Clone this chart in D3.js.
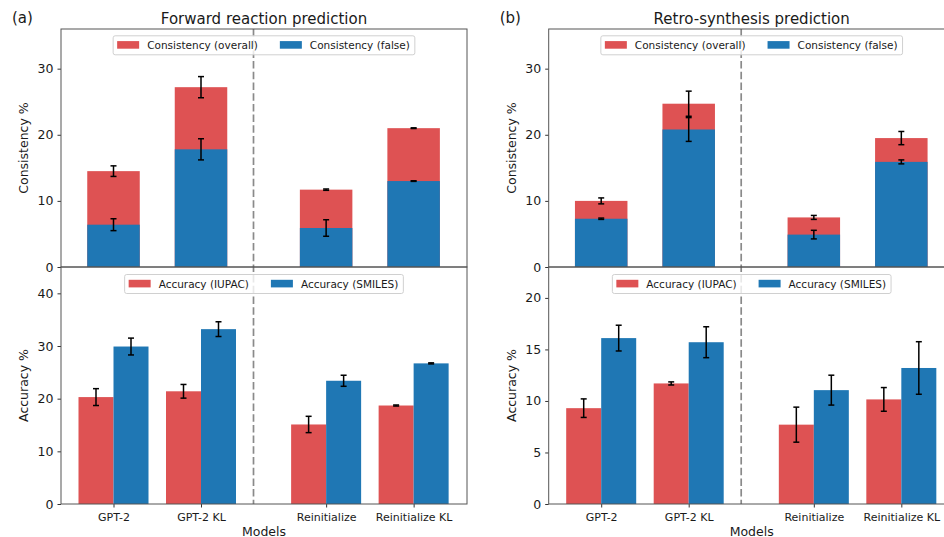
<!DOCTYPE html>
<meta charset="utf-8">
<style>
  body { margin: 0; overflow: hidden; background: white; }
  text { font-family: "DejaVu Sans", sans-serif; fill: #1a1a1a; }
  .tick text { font-family: "DejaVu Sans", sans-serif; fill: #1a1a1a; }
  .ylab { font-size: 12.5px; }
  .title { font-size: 15px; }
  .legend-label { font-size: 10.5px; }
</style>

<script src="https://d3js.org/d3.v7.min.js"></script>

<div id="my_dataviz"></div>

<script>
  // models on the x axis
  const models = ["GPT-2", "GPT-2 KL", "Reinitialize", "Reinitialize KL"];

  // (a) forward reaction prediction
  const fwdConsOverall    = [14.5, 27.2, 11.7, 21.0];
  const fwdConsOverallErr = [0.8, 1.6, 0.1, 0.05];
  const fwdConsFalse      = [6.4, 17.8, 5.9, 13.0];
  const fwdConsFalseErr   = [0.9, 1.6, 1.25, 0.05];
  const fwdAccIupac       = [20.3, 21.4, 15.1, 18.7];
  const fwdAccIupacErr    = [1.6, 1.3, 1.55, 0.1];
  const fwdAccSmiles      = [29.9, 33.2, 23.4, 26.7];
  const fwdAccSmilesErr   = [1.6, 1.4, 1.05, 0.1];

  // (b) retro-synthesis prediction
  const retroConsOverall    = [10.0, 24.7, 7.5, 19.5];
  const retroConsOverallErr = [0.45, 1.9, 0.3, 1.0];
  const retroConsFalse      = [7.3, 20.8, 4.9, 15.9];
  const retroConsFalseErr   = [0.1, 1.8, 0.65, 0.3];
  const retroAccIupac       = [9.3, 11.7, 7.7, 10.15];
  const retroAccIupacErr    = [0.9, 0.15, 1.7, 1.15];
  const retroAccSmiles      = [16.1, 15.7, 11.05, 13.2];
  const retroAccSmilesErr   = [1.25, 1.5, 1.45, 2.55];

  // axis ticks
  const consTicks = [0, 10, 20, 30];
  const fwdAccTicks = [0, 10, 20, 30, 40];
  const retroAccTicks = [0, 5, 10, 15, 20];

  const red = "#de5253", blue = "#1f77b4";

  const svg = d3.select("#my_dataviz")
    .append("svg")
      .attr("width", 944)
      .attr("height", 537);

  // layout of the two columns
  const plotW = 406;
  const topY = 29, midY = 267, botY = 504;
  const gap = 0.43;               // extra space before the "Reinitialize" group
  const xPos = i => i + (i >= 2 ? gap : 0);

  function panel(left, letter, title, cons, acc) {
    const g = svg.append("g").attr("transform", `translate(${left},0)`);

    const x = d3.scaleLinear().domain([-0.6, 4.04]).range([0, plotW]);
    const yTop = d3.scaleLinear().domain([0, 36]).range([midY, topY]);
    const yBot = d3.scaleLinear().domain([0, acc.max]).range([botY, midY]);

    // white axes backgrounds
    g.append("rect").attr("x", 0).attr("y", topY).attr("width", plotW)
      .attr("height", botY - topY).attr("fill", "white");

    // ---- top: consistency (overlaid bars) ----
    const bw = 0.6;
    g.append("g").selectAll("rect")
      .data(cons.overall)
      .join("rect")
        .attr("x", (d, i) => x(xPos(i) - bw / 2))
        .attr("width", x(bw) - x(0))
        .attr("y", d => yTop(d))
        .attr("height", d => yTop(0) - yTop(d))
        .attr("fill", red);
    g.append("g").selectAll("rect")
      .data(cons.falseV)
      .join("rect")
        .attr("x", (d, i) => x(xPos(i) - bw / 2))
        .attr("width", x(bw) - x(0))
        .attr("y", d => yTop(d))
        .attr("height", d => yTop(0) - yTop(d))
        .attr("fill", blue);
    errorBars(g, cons.overall, cons.overallErr, i => x(xPos(i)), yTop);
    errorBars(g, cons.falseV, cons.falseErr, i => x(xPos(i)), yTop);

    // ---- bottom: accuracy (grouped bars) ----
    const gw = 0.4;
    g.append("g").selectAll("rect")
      .data(acc.iupac)
      .join("rect")
        .attr("x", (d, i) => x(xPos(i) - gw))
        .attr("width", x(gw) - x(0))
        .attr("y", d => yBot(d))
        .attr("height", d => yBot(0) - yBot(d))
        .attr("fill", red);
    g.append("g").selectAll("rect")
      .data(acc.smiles)
      .join("rect")
        .attr("x", (d, i) => x(xPos(i)))
        .attr("width", x(gw) - x(0))
        .attr("y", d => yBot(d))
        .attr("height", d => yBot(0) - yBot(d))
        .attr("fill", blue);
    errorBars(g, acc.iupac, acc.iupacErr, i => x(xPos(i) - gw / 2), yBot);
    errorBars(g, acc.smiles, acc.smilesErr, i => x(xPos(i) + gw / 2), yBot);

    // dashed separator
    g.append("line")
      .attr("x1", x(1.6)).attr("x2", x(1.6))
      .attr("y1", topY).attr("y2", botY)
      .attr("stroke", "#8a8a8a")
      .attr("stroke-width", 1.7)
      .attr("stroke-dasharray", "7.5,3.2");

    // y axes
    const yAxisTop = g.append("g")
      .call(d3.axisLeft(yTop).tickValues(consTicks).tickSize(3.5).tickPadding(4));
    const yAxisBot = g.append("g")
      .call(d3.axisLeft(yBot).tickValues(acc.ticks).tickSize(3.5).tickPadding(4));
    const xAxis = g.append("g")
      .attr("transform", `translate(0,${botY})`)
      .call(d3.axisBottom(x).tickValues(d3.range(models.length).map(xPos))
        .tickFormat((d, i) => models[i]).tickSize(3.5).tickPadding(5.7));
    [yAxisTop, yAxisBot, xAxis].forEach(a => {
      a.select(".domain").remove();
      a.selectAll(".tick line").attr("stroke", "#333");
    });
    yAxisTop.selectAll(".tick text").style("font-size", "12.5px");
    yAxisBot.selectAll(".tick text").style("font-size", "12.5px");
    xAxis.selectAll(".tick text").style("font-size", "11px");

    // spines
    g.append("rect").attr("x", 0).attr("y", topY).attr("width", plotW)
      .attr("height", midY - topY).attr("fill", "none").attr("stroke", "#555").attr("stroke-width", 1);
    g.append("rect").attr("x", 0).attr("y", midY).attr("width", plotW)
      .attr("height", botY - midY).attr("fill", "none").attr("stroke", "#555").attr("stroke-width", 1);

    // axis labels
    g.append("text").attr("class", "ylab")
      .attr("transform", `translate(-37,${(topY + midY) / 2}) rotate(-90)`)
      .attr("text-anchor", "middle").attr("dy", "0.35em")
      .text("Consistency %");
    g.append("text").attr("class", "ylab")
      .attr("transform", `translate(-37,${(midY + botY) / 2}) rotate(-90)`)
      .attr("text-anchor", "middle").attr("dy", "0.35em")
      .text("Accuracy %");
    g.append("text").attr("class", "ylab")
      .attr("x", plotW / 2).attr("y", 535.5)
      .attr("text-anchor", "middle")
      .text("Models");

    // titles
    g.append("text").attr("class", "title")
      .attr("x", plotW / 2).attr("y", 24)
      .attr("text-anchor", "middle")
      .text(title);
    g.append("text").attr("class", "title")
      .attr("x", -49).attr("y", 23)
      .text(letter);

    // legends
    legend(g, topY + 6.8, ["Consistency (overall)", "Consistency (false)"]);
    legend(g, midY + 7.5, ["Accuracy (IUPAC)", "Accuracy (SMILES)"]);
  }

  function errorBars(g, vals, errs, cx, y) {
    const eb = g.append("g").attr("stroke", "black").attr("stroke-width", 1.5);
    vals.forEach((v, i) => {
      const x0 = cx(i), y1 = y(v + errs[i]), y2 = y(v - errs[i]);
      eb.append("line").attr("x1", x0).attr("x2", x0).attr("y1", y1).attr("y2", y2);
      eb.append("line").attr("x1", x0 - 3).attr("x2", x0 + 3).attr("y1", y1).attr("y2", y1);
      eb.append("line").attr("x1", x0 - 3).attr("x2", x0 + 3).attr("y1", y2).attr("y2", y2);
    });
  }

  function legend(g, top, labels) {
    const lg = g.append("g");
    const frame = lg.append("rect")
      .attr("y", top).attr("height", 19).attr("rx", 2)
      .attr("fill", "white").attr("fill-opacity", 0.8)
      .attr("stroke", "#d0d0d0").attr("stroke-width", 1);
    let cx = 4;
    labels.forEach((lab, i) => {
      lg.append("rect")
        .attr("x", cx).attr("y", top + 5.3)
        .attr("width", 22).attr("height", 7.6)
        .attr("fill", i === 0 ? red : blue);
      const t = lg.append("text").attr("class", "legend-label")
        .attr("x", cx + 30).attr("y", top + 9.5).attr("dy", "0.35em")
        .text(lab);
      cx += 30 + t.node().getComputedTextLength() + (i === 0 ? 22 : 5);
    });
    frame.attr("x", 0).attr("width", cx);
    lg.attr("transform", `translate(${(plotW - cx) / 2},0)`);
  }

  panel(61, "(a)", "Forward reaction prediction",
    { overall: fwdConsOverall, overallErr: fwdConsOverallErr, falseV: fwdConsFalse, falseErr: fwdConsFalseErr },
    { iupac: fwdAccIupac, iupacErr: fwdAccIupacErr, smiles: fwdAccSmiles, smilesErr: fwdAccSmilesErr, ticks: fwdAccTicks, max: 45 });

  panel(548.7, "(b)", "Retro-synthesis prediction",
    { overall: retroConsOverall, overallErr: retroConsOverallErr, falseV: retroConsFalse, falseErr: retroConsFalseErr },
    { iupac: retroAccIupac, iupacErr: retroAccIupacErr, smiles: retroAccSmiles, smilesErr: retroAccSmilesErr, ticks: retroAccTicks, max: 23 });
</script>
